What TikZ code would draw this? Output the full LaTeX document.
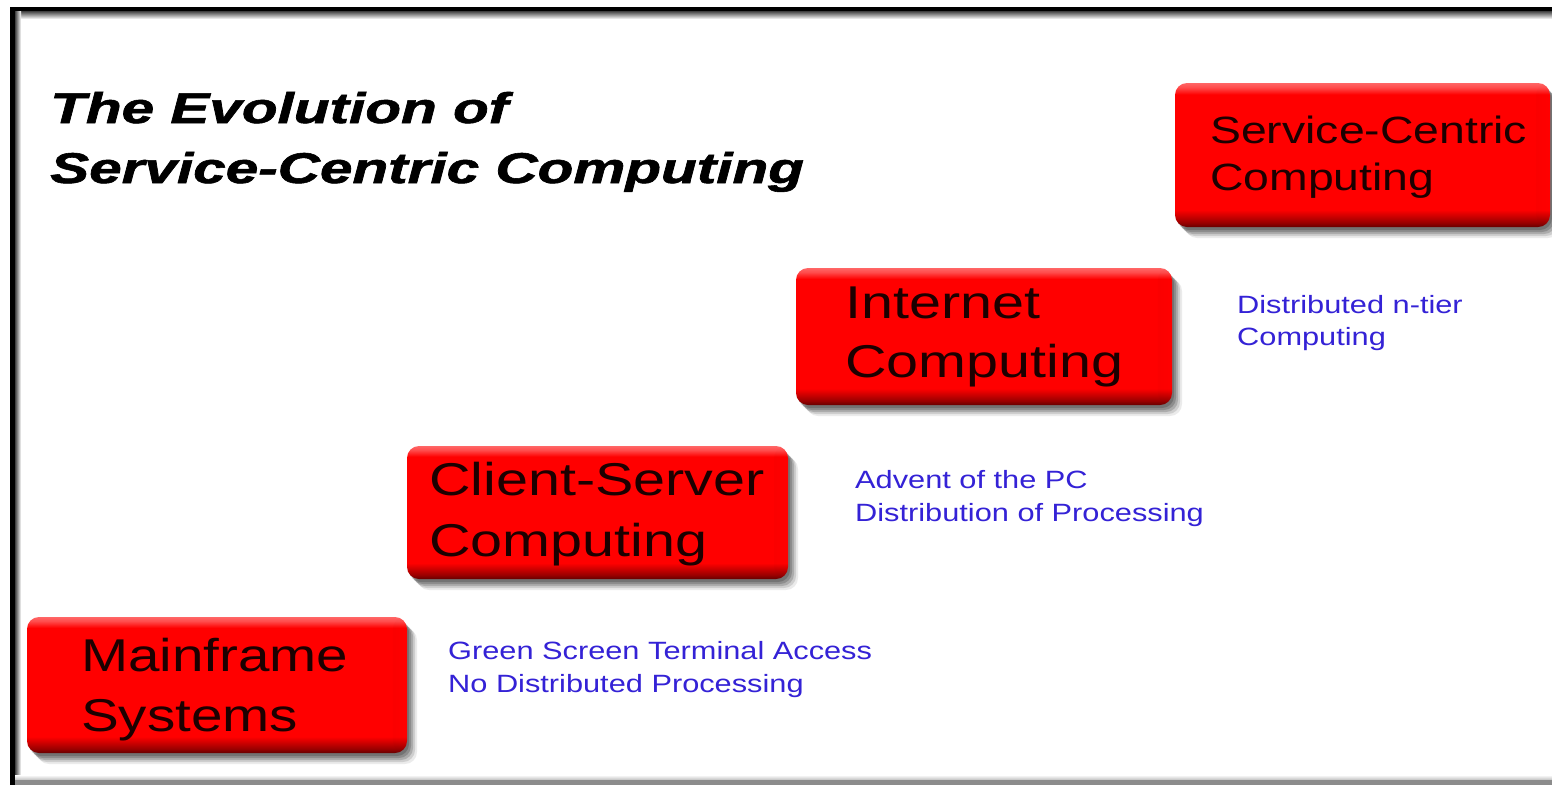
\documentclass[tikz,border=0pt]{standalone}
\usepackage{fontspec}
\setmainfont{Liberation Sans}
\newfontfamily\titlefont[FakeBold=1.3]{Liberation Sans}
\usetikzlibrary{shadows,fadings}
\definecolor{bluetxt}{RGB}{52,34,214}
\definecolor{boxtxt}{RGB}{28,0,0}
\pgfdeclareverticalshading{boxshade}{100bp}{%
  color(0bp)=(red!40!black); color(25bp)=(red!40!black); color(26.5bp)=(red!60!black);
  color(31bp)=(red); color(71bp)=(red); color(73.5bp)=(red!70!white);
  color(75bp)=(red!60!white); color(100bp)=(red!60!white)}
\tikzset{
  redbox/.style={rounded corners=12pt, inner sep=0pt,
    minimum width=#1,
    drop shadow={shadow xshift=2pt,shadow yshift=-3pt,opacity=.18,fill=black},
    drop shadow={shadow xshift=4pt,shadow yshift=-5pt,opacity=.18,fill=black},
    drop shadow={shadow xshift=6pt,shadow yshift=-7pt,opacity=.16,fill=black},
    drop shadow={shadow xshift=8pt,shadow yshift=-9pt,opacity=.12,fill=black},
    drop shadow={shadow xshift=10pt,shadow yshift=-11pt,opacity=.08,fill=black},
    shade, shading=boxshade,
    path picture={
      \fill[black, opacity=.4, path fading=east]
        ([xshift=-14pt]path picture bounding box.north east) rectangle (path picture bounding box.south east);
    }},
  boxtext/.style={anchor=base west, inner sep=0pt, text=boxtxt, font=\fontsize{46}{52}\selectfont},
  smallboxtext/.style={anchor=base west, inner sep=0pt, text=boxtxt, font=\fontsize{38}{44}\selectfont},
  bluetext/.style={anchor=base west, inner sep=0pt, text=bluetxt, font=\fontsize{25}{30}\selectfont},
  titletext/.style={anchor=base west, inner sep=0pt, text=black, font=\fontsize{43}{50}\titlefont\bfseries\itshape},
}
\begin{document}
\begin{tikzpicture}[x=1pt,y=-1pt]
\useasboundingbox (0,0) rectangle (1552,785);
\fill[white] (0,0) rectangle (1552,785);
% frame
\fill[black] (10,7) rectangle (1552,11);
\shade[top color=black!75, bottom color=white] (10,11) rectangle (1552,19);
\fill[black] (10,7) rectangle (15,785);
\shade[left color=black!75, right color=white] (15,11) rectangle (21,780);
\shade[top color=white, bottom color=black!25] (15,775) rectangle (1552,780);
\fill[black!45] (15,780) rectangle (1552,785);

% title
\node[titletext] (t1) at (50,123) {\scalebox{1.36}[1]{The Evolution of}};
\node[titletext] (t2) at (50,183) {\scalebox{1.36}[1]{Service-Centric Computing}};

% boxes
\node[redbox=380pt, minimum height=136pt] (mf) at (217,685) {};
\node[redbox=381pt, minimum height=133pt] (cs) at (597.5,512.5) {};
\node[redbox=376pt, minimum height=137pt] (in) at (984,336.5) {};
\node[redbox=375pt, minimum height=144pt] (sc) at (1362.5,155) {};

% box texts
\node[boxtext] (mf1) at (81,671) {\scalebox{1.23}[1]{Mainframe}};
\node[boxtext] (mf2) at (81,731) {\scalebox{1.23}[1]{Systems}};
\node[boxtext] (cs1) at (429,495) {\scalebox{1.25}[1]{Client-Server}};
\node[boxtext] (cs2) at (429,556) {\scalebox{1.25}[1]{Computing}};
\node[boxtext] (in1) at (845,318) {\scalebox{1.25}[1]{Internet}};
\node[boxtext] (in2) at (845,377) {\scalebox{1.25}[1]{Computing}};
\node[smallboxtext] (sc1) at (1210,143) {\scalebox{1.22}[1]{Service-Centric}};
\node[smallboxtext] (sc2) at (1210,190) {\scalebox{1.22}[1]{Computing}};

% descriptions
\node[bluetext] (d1a) at (448,659) {\scalebox{1.23}[1]{Green Screen Terminal Access}};
\node[bluetext] (d1b) at (448,692) {\scalebox{1.23}[1]{No Distributed Processing}};
\node[bluetext] (d2a) at (855,488) {\scalebox{1.23}[1]{Advent of the PC}};
\node[bluetext] (d2b) at (855,521) {\scalebox{1.23}[1]{Distribution of Processing}};
\node[bluetext] (d3a) at (1237,313) {\scalebox{1.23}[1]{Distributed n-tier}};
\node[bluetext] (d3b) at (1237,345) {\scalebox{1.23}[1]{Computing}};
\end{tikzpicture}
\end{document}
